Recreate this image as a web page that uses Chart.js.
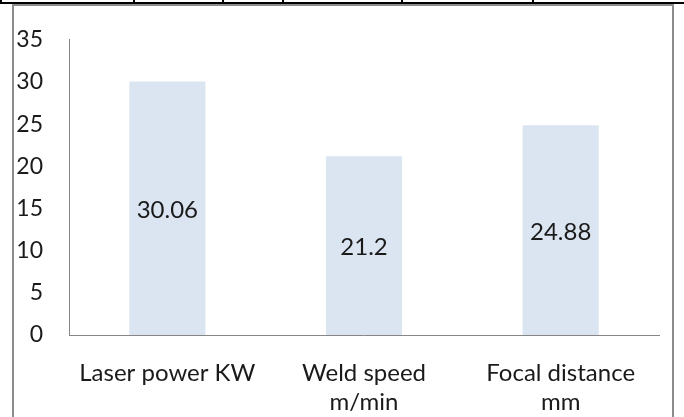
<!DOCTYPE html>
<html>
<head>
<meta charset="utf-8">
<script src="https://cdn.jsdelivr.net/npm/chart.js@4/dist/chart.umd.min.js"></script>
<style>
  html, body { margin: 0; padding: 0; background: #fff; }
  #wrap { position: relative; width: 684px; height: 417px; overflow: hidden; }
  #chart { position: absolute; left: 0; top: 0; }
  /* table rule above the chart box */
  .rule { position: absolute; background: #000; }
  /* grey chart-area border, open at the bottom */
  #box {
    position: absolute; left: 12px; top: 4px; width: 658px; height: 430px;
    border: 2px solid #8c8c8c; border-bottom: none;
  }
</style>
</head>
<body>
<div id="wrap">
  <div class="rule" style="left:0;top:2px;width:684px;height:2px"></div>
  <div class="rule" style="left:0;top:0;width:2px;height:4px"></div>
  <div class="rule" style="left:133px;top:0;width:2px;height:3px"></div>
  <div class="rule" style="left:222px;top:0;width:2px;height:3px"></div>
  <div class="rule" style="left:282px;top:0;width:2px;height:3px"></div>
  <div class="rule" style="left:401px;top:0;width:2px;height:3px"></div>
  <div class="rule" style="left:532px;top:0;width:2px;height:3px"></div>
  <div id="box"></div>
  <canvas id="chart" width="684" height="417"></canvas>
</div>
<script>
// welding parameters
const categories = ['Laser power KW', ['Weld speed', 'm/min'], ['Focal distance', 'mm']];
const values = [30.06, 21.2, 24.88];
const yTicks = [0, 5, 10, 15, 20, 25, 30, 35];

const FONT = 'Lato, "Noto Sans", sans-serif';
const TEXT = '#1a1a1a';
const AXIS = '#868686';

// value written in the middle of each bar
const midLabels = {
  id: 'midLabels',
  afterDatasetsDraw(chart) {
    const { ctx } = chart;
    const meta = chart.getDatasetMeta(0);
    ctx.save();
    ctx.font = '24px ' + FONT;
    ctx.fillStyle = TEXT;
    ctx.textAlign = 'center';
    ctx.textBaseline = 'middle';
    meta.data.forEach((bar, i) => {
      const y = (bar.y + bar.base) / 2 + 2;
      ctx.fillText(String(values[i]), bar.x, y);
    });
    ctx.restore();
  },
};

new Chart(document.getElementById('chart'), {
  type: 'bar',
  data: {
    labels: categories,
    datasets: [{
      data: values,
      backgroundColor: '#dbe5f1',
      borderWidth: 0,
      categoryPercentage: 1,
      barPercentage: 0.387,
    }],
  },
  plugins: [midLabels],
  options: {
    responsive: false,
    animation: false,
    layout: { padding: { left: 14, right: 25, top: 35, bottom: 0 } },
    plugins: { legend: { display: false }, tooltip: { enabled: false } },
    scales: {
      x: {
        grid: { display: false, drawTicks: false },
        border: { color: AXIS, width: 1 },
        ticks: { color: TEXT, font: { family: FONT, size: 24 }, padding: 24, maxRotation: 0, autoSkip: false },
        afterFit(scale) { scale.height = 82; },
      },
      y: {
        min: 0,
        max: 35,
        grid: { display: false, drawTicks: false },
        border: { color: AXIS, width: 1 },
        afterBuildTicks(scale) { scale.ticks = yTicks.map(v => ({ value: v })); },
        ticks: { color: TEXT, font: { family: FONT, size: 23 }, padding: 26 },
        afterFit(scale) { scale.width = 55; },
      },
    },
  },
});
</script>
</body>
</html>
